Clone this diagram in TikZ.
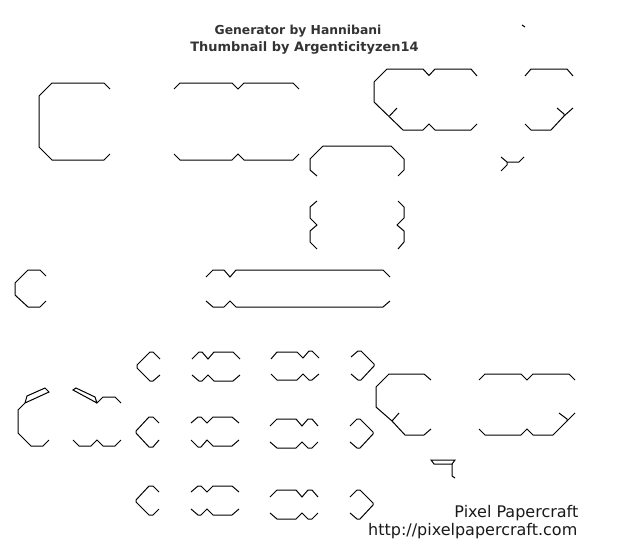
\documentclass[tikz,border=0pt]{standalone}
\usepackage{fontspec}
\setmainfont{DejaVu Sans}
\tikzset{
  outline/.style={draw=black,line width=1pt,line join=miter,line cap=butt},
  titletext/.style={anchor=base,inner sep=0pt,text=black!80,font=\bfseries},
  credittext/.style={anchor=base east,inner sep=0pt,text=black!90,font=\fontsize{16}{18}\selectfont}
}
\begin{document}
\begin{tikzpicture}[x=1pt,y=-1pt]
\useasboundingbox (0,0) rectangle (631,541);
\node[titletext,font=\fontsize{12.35}{14}\selectfont\bfseries] (title1) at (298,34) {Generator by Hannibani};
\node[titletext,font=\fontsize{12.95}{14}\selectfont\bfseries] (title2) at (304.5,51) {Thumbnail by Argenticityzen14};
\node[credittext] (credit1) at (578.5,517) {Pixel Papercraft};
\node[credittext] (credit2) at (577.5,535.7) {http://pixelpapercraft.com};
% top row left
\draw[outline] (110,89)--(104,83)--(52,83)--(39,96)--(39,147)--(52,160)--(104,160)--(110,154);
\draw[outline] (174,89)--(180,83)--(232,83)--(238,89)--(244,83)--(293,83)--(299,89);
\draw[outline] (174,154)--(180,160)--(232,160)--(238,154)--(244,160)--(293,160)--(299,154);
% top row right
\draw[outline] (522,25)--(525,27);
\draw[outline] (477,76)--(471,69)--(435,69)--(429,75.5)--(423,69)--(387,69)--(374,82)--(374,102)--(403,130)--(423,130)--(429,124)--(435,130)--(471,130)--(477,124);
\draw[outline] (389.5,116)--(397,108);
\draw[outline] (525,124)--(531,130)--(551,130)--(564,116)--(573,108);
\draw[outline] (525,76)--(531,69)--(567,69)--(573,76);
\draw[outline] (564,116)--(564,114)--(557,108);
\draw[outline] (501,157)--(507,162)--(519,162)--(524,157);
\draw[outline] (507,162)--(507,165)--(501,171);
% centre box
\draw[outline] (317,176)--(310,170)--(310,159)--(323,146)--(391,146)--(404,159)--(404,170)--(398,176);
\draw[outline] (317,201)--(310,207)--(310,218)--(317,225)--(310,231)--(310,242)--(317,249);
\draw[outline] (398,201)--(404,207)--(404,218)--(397,225)--(404,231)--(404,242)--(398,249);
% middle row
\draw[outline] (46,276)--(40,270)--(28,270)--(15,283)--(15,295)--(28,307)--(40,307)--(46,301);
\draw[outline] (206,277)--(213,270)--(224,270)--(230,277)--(236,270)--(383,270)--(390,277);
\draw[outline] (206,301)--(213,307)--(224,307)--(230,301)--(236,307)--(383,307)--(390,301);
% lower left
\draw[outline] (49,440)--(43,446)--(31,446)--(18,433)--(18,410)--(25,403)--(49,392)--(45,388)--(27,396)--(25,403);
\draw[outline] (73,440)--(79,446)--(91,446)--(97,440)--(103,446)--(115,446)--(121,440);
\draw[outline] (97,403)--(73,390)--(76,388)--(95,397)--(97,403)--(103,397)--(115,397)--(121,403);
% column 1
\draw[outline] (160,359)--(153,352)--(150,352)--(137,365)--(137,368)--(150,381)--(153,381)--(160,375);
\draw[outline] (159,423)--(153,417)--(149,417)--(136,431)--(136,433)--(149,447)--(153,447)--(159,440);
\draw[outline] (159,492)--(153,486)--(149,486)--(136,500)--(136,502)--(149,515)--(153,515)--(159,509);
% column 2
\draw[outline] (192,359)--(199,352)--(202,352)--(208,359)--(214,352)--(233,352)--(240,359);
\draw[outline] (192,375)--(199,381)--(202,381)--(208,375)--(214,381)--(233,381)--(240,375);
\draw[outline] (191,423)--(198,417)--(201,417)--(207,423)--(213,417)--(232,417)--(239,423);
\draw[outline] (191,440)--(198,447)--(201,447)--(207,440)--(213,446)--(232,446)--(239,440);
\draw[outline] (191,492)--(198,486)--(201,486)--(207,492)--(213,486)--(232,486)--(239,492);
\draw[outline] (191,509)--(198,515)--(201,515)--(207,509)--(213,515)--(232,515)--(239,509);
% column 3
\draw[outline] (271,359)--(277,352)--(297,352)--(303,358)--(309,351)--(312,351)--(319,358);
\draw[outline] (271,374)--(277,380)--(297,380)--(303,374)--(309,380)--(312,380)--(319,374);
\draw[outline] (270,426)--(277,419)--(296,419)--(302,426)--(308,419)--(312,419)--(318,426);
\draw[outline] (270,442)--(277,448)--(296,448)--(302,442)--(308,448)--(312,448)--(318,442);
\draw[outline] (270,497)--(277,490)--(296,490)--(302,497)--(308,490)--(312,490)--(318,497);
\draw[outline] (270,513)--(277,519)--(296,519)--(302,513)--(308,519)--(312,519)--(318,513);
% column 4
\draw[outline] (351,357)--(358,351)--(361,351)--(374,364)--(374,366)--(361,380)--(358,380)--(351,374);
\draw[outline] (350,426)--(357,419)--(360,419)--(373,432)--(373,434)--(360,448)--(357,448)--(350,442);
\draw[outline] (350,497)--(357,490)--(360,490)--(373,503)--(373,505)--(360,519)--(357,519)--(350,513);
% lower right
\draw[outline] (431,380)--(424,374)--(389,374)--(376,387)--(376,407)--(392,421)--(405,435)--(424,435)--(431,429);
\draw[outline] (392,421)--(399,413);
\draw[outline] (479,380)--(485,374)--(521,374)--(527,380)--(533,374)--(569,374)--(575,380);
\draw[outline] (479,429)--(485,435)--(521,435)--(527,429)--(533,435)--(553,435)--(567,421)--(575,413);
\draw[outline] (567,421)--(567,419)--(559,413);
\draw[outline] (431,460)--(455,460)--(452,464)--(434,464)--cycle;
\draw[outline] (452,464)--(452,476)--(455,478);
\end{tikzpicture}
\end{document}
